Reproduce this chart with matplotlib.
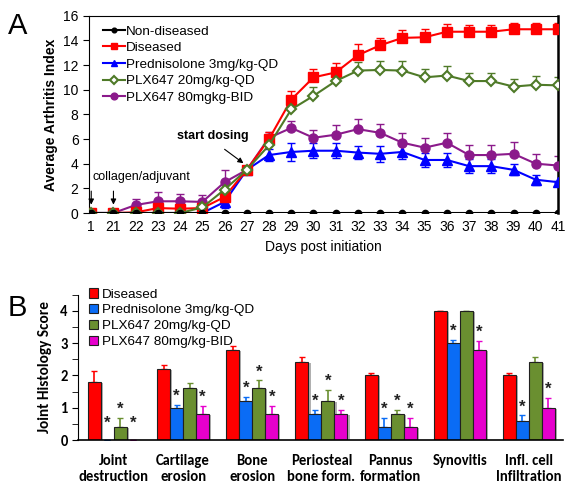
import numpy as np
import matplotlib
matplotlib.use("Agg")
import matplotlib.pyplot as plt
from matplotlib.patches import Patch
from matplotlib import font_manager

plt.rcParams['font.family'] = ['Liberation Sans', 'DejaVu Sans']

installed = set(f.name for f in font_manager.fontManager.ttflist)
narrow = 'Liberation Sans Narrow' if 'Liberation Sans Narrow' in installed else 'Liberation Sans'
calib = 'Carlito' if 'Carlito' in installed else 'Lato'

# ---- panel A data ----
days = ['1', '21', '22', '23', '24', '25', '26', '27', '28', '29', '30',
        '31', '32', '33', '34', '35', '36', '37', '38', '39', '40', '41']
non_diseased = [0] * 22
diseased = [0, 0, 0.05, 0.4, 0.35, 0.4, 1.3, 3.5, 6.0, 9.2, 11.0,
            11.4, 12.8, 13.6, 14.2, 14.25, 14.7, 14.7, 14.7, 14.9, 14.9, 14.9]
diseased_err = [0, 0, 0.1, 0.2, 0.2, 0.2, 0.4, 0.3, 0.6, 0.7, 0.7,
                0.8, 0.9, 0.6, 0.6, 0.65, 0.6, 0.55, 0.55, 0.5, 0.5, 0.5]
pred = [0, 0, 0, 0, 0, 0, 0.9, 3.5, 4.7, 4.95, 5.05,
        5.05, 4.9, 4.8, 4.95, 4.3, 4.3, 3.8, 3.8, 3.5, 2.7, 2.5]
pred_err = [0, 0, 0, 0, 0, 0, 0.5, 0.3, 0.5, 0.7, 0.6,
            0.6, 0.55, 0.65, 0.6, 0.55, 0.6, 0.55, 0.55, 0.45, 0.4, 0.1]
plx20 = [0, 0, 0, 0, 0, 0.45, 1.9, 3.5, 5.5, 8.4, 9.5,
         10.7, 11.55, 11.6, 11.55, 11.0, 11.15, 10.7, 10.7, 10.25, 10.4, 10.35]
plx20_err = [0, 0, 0, 0, 0, 0.3, 0.5, 0.3, 0.6, 0.6, 0.75,
             0.85, 0.7, 0.7, 0.8, 0.7, 0.8, 0.65, 0.65, 0.6, 0.75, 0.65]
plx80 = [0, 0, 0.65, 0.95, 0.95, 0.9, 2.5, 3.5, 6.1, 6.9, 6.1,
         6.35, 6.8, 6.5, 5.7, 5.3, 5.7, 4.7, 4.7, 4.8, 4.0, 3.85]
plx80_err = [0, 0, 0.5, 0.75, 0.6, 0.6, 1.0, 0.3, 0.5, 0.6, 0.6,
             0.75, 0.8, 0.7, 0.8, 0.8, 0.8, 0.85, 0.85, 0.95, 0.75, 0.8]

# ---- panel B data ----
categories = ['Joint\ndestruction', 'Cartilage\nerosion', 'Bone\nerosion',
              'Periosteal\nbone form.', 'Pannus\nformation', 'Synovitis',
              'Infl. cell\nInfiltration']
b_diseased = [1.8, 2.2, 2.8, 2.4, 2.0, 4.0, 2.0]
b_diseased_err = [0.35, 0.12, 0.12, 0.17, 0.07, 0.0, 0.07]
b_pred = [0, 1.0, 1.2, 0.8, 0.4, 3.0, 0.6]
b_pred_err = [0, 0.08, 0.13, 0.13, 0.28, 0.09, 0.16]
b_plx20 = [0.4, 1.6, 1.6, 1.2, 0.8, 4.0, 2.4]
b_plx20_err = [0.28, 0.15, 0.25, 0.35, 0.13, 0.0, 0.17]
b_plx80 = [0, 0.8, 0.8, 0.8, 0.4, 2.8, 1.0]
b_plx80_err = [0, 0.25, 0.25, 0.13, 0.28, 0.27, 0.3]
b_pred_sig = [1, 1, 1, 1, 1, 1, 1]
b_plx20_sig = [1, 0, 1, 1, 1, 0, 0]
b_plx80_sig = [1, 1, 1, 1, 1, 1, 1]

fig = plt.figure(figsize=(5.72, 4.83), dpi=100)

# ================= panel A =================
ax = fig.add_axes([0.1556, 0.559, 0.8199, 0.4085])
x = np.arange(len(days))
zeros = np.zeros(len(days))

ax.errorbar(x, plx80, yerr=[zeros, plx80_err], fmt='none', ecolor='#8b1a8b', elinewidth=1, capsize=3)
ax.errorbar(x, plx20, yerr=[zeros, plx20_err], fmt='none', ecolor='#4f7a28', elinewidth=1, capsize=3)
ax.errorbar(x, diseased, yerr=[zeros, diseased_err], fmt='none', ecolor='red', elinewidth=1, capsize=3)
ax.errorbar(x, pred, yerr=pred_err, fmt='none', ecolor='blue', elinewidth=1, capsize=3)

ax.plot(x, non_diseased, '-o', color='black', ms=4.5, lw=1.5, label='Non-diseased', zorder=6)
ax.plot(x, diseased, '-s', color='red', ms=6.5, lw=1.5, label='Diseased', zorder=4)
ax.plot(x, pred, '-^', color='blue', ms=6.5, lw=1.5, label='Prednisolone 3mg/kg-QD', zorder=3)
ax.plot(x, plx20, '-D', color='#4f7a28', mfc='white', mec='#4f7a28', mew=1.5, ms=5,
        lw=1.5, label='PLX647 20mg/kg-QD', zorder=5)
ax.plot(x, plx80, '-o', color='#8b1a8b', ms=6.5, lw=1.5, label='PLX647 80mgkg-BID', zorder=3)

ax.set_xlim(-0.1, 21)
ax.set_ylim(0, 16)
ax.set_yticks(np.arange(0, 17, 2))
ax.set_xticks(x)
ax.set_xticklabels(days, fontsize=10)
ax.tick_params(axis='x', length=0, pad=5)
ax.tick_params(axis='y', labelsize=10, direction='out', length=4)
ax.spines['right'].set_linewidth(1.8)
ax.spines['bottom'].set_visible(False)
ax.set_xlabel('Days post initiation', fontsize=10, labelpad=4)
ax.set_ylabel('Average Arthritis Index', fontsize=10, fontweight='bold', labelpad=4)
ax.legend(loc='upper left', bbox_to_anchor=(0.01, 1.0), frameon=False, fontsize=9.7,
          handlelength=1.6, handletextpad=0.1, labelspacing=0.31, borderaxespad=0.3,
          markerscale=0.75)

nsz = 10 if narrow != 'Liberation Sans' else 9
ax.text(0.05, 2.7, 'collagen/adjuvant', fontsize=nsz, family=narrow)
ax.annotate('', xy=(0, 0.45), xytext=(0, 2.0),
            arrowprops=dict(arrowstyle='-|>', color='black', lw=0.8, mutation_scale=8))
ax.annotate('', xy=(1, 0.45), xytext=(1, 2.0),
            arrowprops=dict(arrowstyle='-|>', color='black', lw=0.8, mutation_scale=8))
ax.text(3.85, 6.0, 'start dosing', fontsize=nsz, fontweight='bold', family=narrow)
ax.annotate('', xy=(6.95, 3.9), xytext=(5.9, 5.3),
            arrowprops=dict(arrowstyle='-|>', color='black', lw=0.8, mutation_scale=8))

fig.text(0.014, 0.93, 'A', fontsize=21)

# ================= panel B =================
bx = fig.add_axes([0.1364, 0.089, 0.8476, 0.301])
g = np.arange(len(categories))
w = 0.188
series = [
    (b_diseased, b_diseased_err, None, '#ff0000', 'Diseased'),
    (b_pred, b_pred_err, b_pred_sig, '#0a6cf5', 'Prednisolone 3mg/kg-QD'),
    (b_plx20, b_plx20_err, b_plx20_sig, '#6a8f30', 'PLX647 20mg/kg-QD'),
    (b_plx80, b_plx80_err, b_plx80_sig, '#e600cc', 'PLX647 80mg/kg-BID'),
]
handles = []
for i, (vals, errs, sig, col, lab) in enumerate(series):
    pos = g + (i - 1.5) * w
    # grey shadow
    bx.bar(pos + 0.03, vals, w, bottom=-0.03, color='#b0b0b0', zorder=1)
    bx.bar(pos, vals, w, color=col, edgecolor='#202020', linewidth=0.8, zorder=2)
    vals_a = np.array(vals)
    errs_a = np.array(errs)
    bx.errorbar(pos, vals_a, yerr=[np.zeros(len(vals)), errs_a], fmt='none',
                ecolor=col, elinewidth=1.2, capsize=2.5, zorder=1.5)
    if sig is not None:
        for p, v, e, s in zip(pos, vals_a, errs_a, sig):
            if s:
                top = max(v + e, 0.27)
                bx.text(p, top + 0.03, '*', ha='center', va='bottom', fontsize=12,
                        fontweight='bold', color='#222222')
    handles.append(Patch(facecolor=col, edgecolor='#202020', linewidth=0.8, label=lab))

bx.set_xlim(-0.52, 6.49)
bx.set_ylim(0, 4.5)
bx.set_yticks(np.arange(0, 5, 1))
bx.set_yticks(np.arange(0, 4.6, 0.5), minor=True)
bx.tick_params(axis='y', which='both', direction='out', length=4, labelsize=10.5)
for lbl in bx.get_yticklabels():
    lbl.set_fontweight('bold')
    lbl.set_family(calib)
bx.set_xticks(g)
bx.set_xticklabels(categories, fontsize=10.5, fontweight='bold', family=calib)
bx.tick_params(axis='x', length=0, pad=10)
bx.spines['top'].set_visible(False)
bx.spines['right'].set_visible(False)
bx.spines['bottom'].set_linewidth(1.2)
bx.set_ylabel('Joint Histology Score', fontsize=11, fontweight='bold', family=calib, labelpad=6)
bx.legend(handles=handles, loc='upper left', bbox_to_anchor=(0.005, 1.1), frameon=False,
          fontsize=9.7, handlelength=0.7, handleheight=0.7, handletextpad=0.3,
          labelspacing=0.25, borderaxespad=0.2)

fig.text(0.014, 0.345, 'B', fontsize=21)

fig.savefig('out.png', dpi=100)
